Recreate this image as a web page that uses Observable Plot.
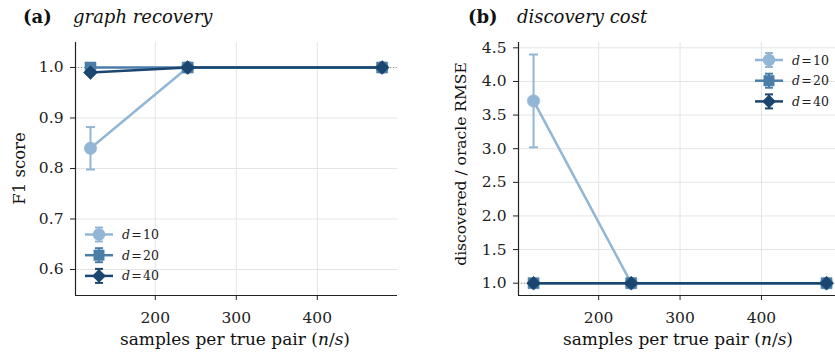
<!DOCTYPE html>
<html>
<head>
<meta charset="utf-8">
<script src="https://cdn.jsdelivr.net/npm/d3@7"></script>
<script src="https://cdn.jsdelivr.net/npm/@observablehq/plot@0.6"></script>
<style>
  body { margin: 0; background: #fff; }
  #fig { position: relative; width: 835px; height: 354px; overflow: hidden; background: #fff; }
  #fig svg { position: absolute; top: 0; overflow: visible; }
</style>
</head>
<body>
<div id="fig"></div>
<script>
// samples per true pair (n/s)
const samples = [120, 240, 480];
const dims = ["10", "20", "40"];

// (a) graph recovery: F1 score, mean and error half-width
const f1_d10 = [0.84, 1.0, 1.0];
const f1_d10_err = [0.042, 0, 0];
const f1_d20 = [1.0, 1.0, 1.0];
const f1_d20_err = [0, 0, 0];
const f1_d40 = [0.99, 1.0, 1.0];
const f1_d40_err = [0, 0, 0];

// (b) discovery cost: discovered / oracle RMSE
const cost_d10 = [3.71, 1.0, 1.0];
const cost_d10_err = [0.69, 0, 0];
const cost_d20 = [1.0, 1.0, 1.0];
const cost_d20_err = [0, 0, 0];
const cost_d40 = [1.0, 1.0, 1.0];
const cost_d40_err = [0, 0, 0];

const f1Ticks = [0.6, 0.7, 0.8, 0.9, 1.0];
const costTicks = [1.0, 1.5, 2.0, 2.5, 3.0, 3.5, 4.0, 4.5];
const xTicks = [200, 300, 400];

const colors = ["#92b6d5", "#4a7ea8", "#1a4670"];
const symbols = ["circle", "square", "diamond2"];
const d3symbols = [d3.symbolCircle, d3.symbolSquare, d3.symbolDiamond2];
const FONT = "DejaVu Serif";
const R = 6.2;

// horizontal error-bar cap drawn as a custom dot symbol
const cap = { draw(ctx) { ctx.moveTo(-4.5, 0); ctx.lineTo(4.5, 0); } };

function rows(vals, errs, d) {
  return samples.map((x, j) => ({ x, y: vals[j], err: errs[j], d }));
}

function seriesMarks(data, i) {
  const withErr = data.filter(r => r.err > 0);
  const c = colors[i];
  return [
    Plot.line(data, { x: "x", y: "y", stroke: c, strokeWidth: 2.5 }),
    Plot.ruleX(withErr, { x: "x", y1: r => r.y - r.err, y2: r => r.y + r.err, stroke: c, strokeWidth: 2 }),
    Plot.dot(withErr, { x: "x", y: r => r.y - r.err, symbol: cap, stroke: c, strokeWidth: 2 }),
    Plot.dot(withErr, { x: "x", y: r => r.y + r.err, symbol: cap, stroke: c, strokeWidth: 2 }),
    Plot.dot(data, { x: "x", y: "y", symbol: symbols[i], r: R, fill: c, stroke: c, strokeWidth: 0.6 })
  ];
}

function panel({ width, marginLeft, marginRight, xDomain, yDomain, yTicks, seriesData }) {
  return Plot.plot({
    width, height: 354,
    marginLeft, marginRight, marginTop: 42, marginBottom: 59,
    style: { fontFamily: FONT, fontSize: "15.5px", color: "#222", background: "transparent" },
    x: { domain: xDomain },
    y: { domain: yDomain },
    marks: [
      Plot.gridX(xTicks, { stroke: "#e4e4e4", strokeOpacity: 1, strokeWidth: 1 }),
      Plot.gridY(yTicks, { stroke: "#e4e4e4", strokeOpacity: 1, strokeWidth: 1 }),
      Plot.ruleY([1], { stroke: "#8a8a8a", strokeWidth: 0.9, strokeDasharray: "1,2" }),
      ...seriesData.flatMap((data, i) => seriesMarks(data, i)),
      Plot.ruleX([xDomain[0]], { stroke: "#222", strokeWidth: 1.2 }),
      Plot.ruleY([yDomain[0]], { stroke: "#222", strokeWidth: 1.2 }),
      Plot.axisX({ ticks: xTicks, tickSize: 5, tickPadding: 11, label: null, stroke: "#222" }),
      Plot.axisY({ ticks: yTicks, tickFormat: d3.format(".1f"), tickSize: 5, tickPadding: 7, label: null, stroke: "#222" })
    ]
  });
}

function decorate(svgNode, { title, tag, tagX, titleX, yLabel, yLabelSize, yLabelX, yLabelY, xLabelX, legendX, legendY }) {
  const svg = d3.select(svgNode);
  const g = svg.append("g").attr("font-family", FONT).attr("fill", "#111");
  // panel title
  g.append("text").attr("x", tagX).attr("y", 23).attr("text-anchor", "start")
    .attr("font-size", 18).attr("font-weight", "bold").text(tag);
  g.append("text").attr("x", titleX).attr("y", 23).attr("text-anchor", "start")
    .attr("font-size", 18).attr("font-style", "italic").text(title);
  // y label
  g.append("text").attr("transform", `translate(${yLabelX},${yLabelY}) rotate(-90)`)
    .attr("text-anchor", "middle").attr("font-size", yLabelSize).text(yLabel);
  // x label
  const xl = g.append("text").attr("x", xLabelX).attr("y", 345).attr("text-anchor", "middle").attr("font-size", 17);
  xl.append("tspan").text("samples per true pair (");
  xl.append("tspan").attr("font-style", "italic").text("n");
  xl.append("tspan").text("/");
  xl.append("tspan").attr("font-style", "italic").text("s");
  xl.append("tspan").text(")");
  // legend
  const lg = g.append("g");
  dims.forEach((d, i) => {
    const cy = legendY + i * 20.7;
    const e = lg.append("g").attr("transform", `translate(${legendX},${cy})`);
    e.append("line").attr("x1", -14).attr("x2", 14).attr("stroke", colors[i]).attr("stroke-width", 2.5);
    e.append("line").attr("y1", -7).attr("y2", 7).attr("stroke", colors[i]).attr("stroke-width", 2);
    e.append("line").attr("x1", -4).attr("x2", 4).attr("y1", -7).attr("y2", -7).attr("stroke", colors[i]).attr("stroke-width", 2);
    e.append("line").attr("x1", -4).attr("x2", 4).attr("y1", 7).attr("y2", 7).attr("stroke", colors[i]).attr("stroke-width", 2);
    e.append("path").attr("d", d3.symbol(d3symbols[i], Math.PI * R * R)()).attr("fill", colors[i]);
    const tx = e.append("text").attr("x", 23).attr("y", 4.5).attr("text-anchor", "start")
      .attr("font-size", 12.5).attr("fill", "#222");
    tx.append("tspan").attr("font-style", "italic").text("d");
    tx.append("tspan").text("\u200a=\u200a" + d);
  });
}

const fig = document.getElementById("fig");

const a = panel({
  width: 410, marginLeft: 75, marginRight: 13,
  xDomain: [101.5, 499], yDomain: [0.5485, 1.0495], yTicks: f1Ticks,
  seriesData: [rows(f1_d10, f1_d10_err, "10"), rows(f1_d20, f1_d20_err, "20"), rows(f1_d40, f1_d40_err, "40")]
});
a.style.left = "0px";
fig.appendChild(a);
decorate(a, {
  tag: "(a)", title: "graph recovery", tagX: 23, titleX: 73,
  yLabel: "F1 score", yLabelSize: 16.5, yLabelX: 25, yLabelY: 168.5, xLabelX: 235,
  legendX: 99, legendY: 234.5
});

const b = panel({
  width: 415, marginLeft: 98, marginRight: 0,
  xDomain: [101.5, 491], yDomain: [0.817, 4.579], yTicks: costTicks,
  seriesData: [rows(cost_d10, cost_d10_err, "10"), rows(cost_d20, cost_d20_err, "20"), rows(cost_d40, cost_d40_err, "40")]
});
b.style.left = "420px";
fig.appendChild(b);
decorate(b, {
  tag: "(b)", title: "discovery cost", tagX: 48, titleX: 97,
  yLabel: "discovered / oracle RMSE", yLabelSize: 15.5, yLabelX: 46, yLabelY: 164, xLabelX: 258,
  legendX: 349, legendY: 60
});
</script>
</body>
</html>
